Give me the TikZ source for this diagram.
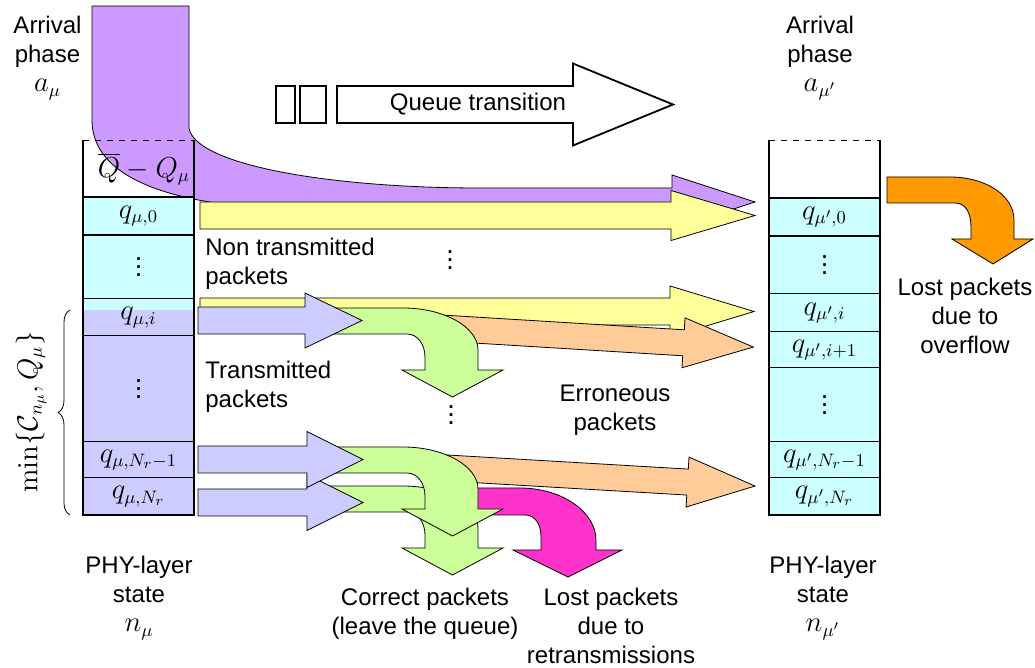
\documentclass[tikz,border=0pt]{standalone}
\usepackage{amsmath}
\usepackage{amssymb}
\usepackage[no-math]{fontspec}
\setmainfont{Liberation Sans}
\usepackage{tikz}
\usepackage{xcolor}
\usetikzlibrary{decorations.pathreplacing}

\definecolor{phasepurple}{HTML}{CC99FF}
\definecolor{waityellow}{HTML}{FFFF99}
\definecolor{txlavender}{HTML}{CCCCFF}
\definecolor{okgreen}{HTML}{CCFF99}
\definecolor{errorange}{HTML}{FFCC99}
\definecolor{retxmagenta}{HTML}{FF33CC}
\definecolor{ovforange}{HTML}{FF9900}
\definecolor{queuecyan}{HTML}{CCFFFF}

\newcommand{\bigmath}{\fontsize{13.5}{14.5}\selectfont}
\newcommand{\blockarrow}[7]{%
  \draw[#1] ({#2},{#5-#6}) -- ({#3},{#5-#6}) -- ({#3},{#5-#7}) -- ({#4},{#5})
    -- ({#3},{#5+#7}) -- ({#3},{#5+#6}) -- ({#2},{#5+#6}) -- cycle;}
\newcommand{\okbend}[2]{%
  \draw[fatarrow,fill=okgreen] ({#1},{#2}) -- (403,{#2})
    .. controls (444,{#2}) and (478,{#2+19}) .. (478,{#2+42})
    -- (478,{#2+62}) -- (503,{#2+62}) -- (452.5,{#2+89}) -- (402,{#2+62})
    -- (425,{#2+62}) -- (425,{#2+49})
    .. controls (425,{#2+37}) and (418,{#2+26}) .. (407,{#2+26})
    -- ({#1},{#2+26}) -- cycle;}

\begin{document}
\begin{tikzpicture}[x=0.5pt,y=-0.5pt,
    fatarrow/.style={draw,line width=0.4pt,line join=miter},
    cell/.style={draw,line width=0.5pt,minimum width=55.5pt,inner sep=0pt,
        font=\fontsize{13.5}{16}\selectfont},
    note/.style={align=center,inner sep=0pt,font=\fontsize{12}{14.5}\selectfont},
    dotsnode/.style={inner sep=0pt,yshift=3pt,font=\fontsize{13.5}{16}\selectfont},
    border/.style={line width=0.9pt}
]
    \useasboundingbox (0,0) rectangle (1035,668);

    \draw[fatarrow,fill=phasepurple] (92,6) -- (189,6) -- (189,128)
        .. controls (195,165) and (330,188) .. (480,188)
        -- (672,188) -- (672,175) -- (755,202) -- (672,229) -- (672,216)
        -- (300,216) -- (230,205) .. controls (150,195) and (92,170) .. (92,120) -- cycle;

    \fill[queuecyan] (83,197) rectangle (194,310);
    \fill[txlavender] (83,310) rectangle (194,515);
    \node[cell,minimum height=19pt] (l0) at (138.5,216) {$q_{\mu,0}$};
    \node[cell,minimum height=32pt] (l1) at (138.5,267) {};
    \node[cell,minimum height=18.5pt] (li) at (138.5,317.5) {$q_{\mu,i}$};
    \node[cell,minimum height=53pt] (l2) at (138.5,389) {};
    \node[cell,minimum height=18pt] (lN1) at (138.5,460) {$q_{\mu,N_r-1}$};
    \node[cell,minimum height=18.5pt] (lN) at (138.5,496.5) {$q_{\mu,N_r}$};
    \node[dotsnode] (ld1) at (l1) {$\vdots$};
    \node[dotsnode] (ld2) at (l2) {$\vdots$};
    \node[inner sep=0pt,font=\fontsize{13.5}{16}\selectfont] (lfree) at (144,169)
        {$\overline{Q}-Q_\mu$};
    \draw[line width=0.4pt,dashed] (83,140) -- (194,140);
    \draw[border] (83,140) -- (83,515) -- (194,515) -- (194,140);
    \draw[border] (83,197) -- (194,197) (83,235) -- (194,235);

    \fill[queuecyan] (769,198) rectangle (880,515);
    \node[cell,minimum height=19pt] (r0) at (824.5,217) {$q_{\mu',0}$};
    \node[cell,minimum height=29pt] (r1) at (824.5,265) {};
    \node[cell,minimum height=19pt] (ri) at (824.5,313) {$q_{\mu',i}$};
    \node[cell,minimum height=18pt] (ri1) at (824.5,350) {$q_{\mu',i+1}$};
    \node[cell,minimum height=37pt] (r2) at (824.5,405) {};
    \node[cell,minimum height=18pt] (rN1) at (824.5,460) {$q_{\mu',N_r-1}$};
    \node[cell,minimum height=18.5pt] (rN) at (824.5,496.5) {$q_{\mu',N_r}$};
    \node[dotsnode] (rd1) at (r1) {$\vdots$};
    \node[dotsnode] (rd2) at (r2) {$\vdots$};
    \draw[line width=0.4pt,dashed] (769,140) -- (880,140);
    \draw[border] (769,140) -- (769,515) -- (880,515) -- (880,140);
    \draw[border] (769,198) -- (880,198) (769,236) -- (880,236);

    \draw[line width=0.4pt,decorate,decoration={brace,amplitude=6pt}] (70,515) -- (70,310);
    \node[rotate=90,inner sep=0pt,font=\fontsize{13.5}{16}\selectfont] (minlbl) at (31,412)
        {$\min\{\mathcal{C}_{n_\mu},Q_\mu\}$};

    \blockarrow{fatarrow,fill=waityellow}{200}{671}{755}{215.5}{13.5}{25}
    \blockarrow{fatarrow,fill=waityellow}{200}{670}{754}{311.5}{13.5}{25.5}
    \begin{scope}[shift={(430,327.3)},rotate=-3.5]
        \blockarrow{fatarrow,fill=errorange}{0}{254}{324}{0}{13}{25}
    \end{scope}
    \okbend{330}{308}
    \blockarrow{fatarrow,fill=txlavender}{198}{305}{362}{320.5}{13.5}{27.5}

    \draw[fatarrow,fill=retxmagenta] (460,488) -- (520,488)
        .. controls (562,488) and (596,512) .. (596,540)
        -- (596,550) -- (622,550) -- (568,577) -- (513,550) -- (541,550) -- (541,537)
        .. controls (541,524) and (535,515) .. (525,515) -- (460,515) -- cycle;
    \begin{scope}[shift={(430,467)},rotate=-3.35]
        \blockarrow{fatarrow,fill=errorange}{0}{258}{325.6}{0}{13}{25}
    \end{scope}
    \okbend{322}{486}
    \okbend{330}{447}
    \blockarrow{fatarrow,fill=txlavender}{198}{307}{363}{502.5}{13.5}{28}
    \blockarrow{fatarrow,fill=txlavender}{198}{307}{363}{459.5}{13.5}{28}

    \draw[fatarrow,fill=ovforange] (887,177) -- (950,177)
        .. controls (985,177) and (1014,195) .. (1014,220)
        -- (1014,239) -- (1033,239) -- (993,264) -- (952,239) -- (971,239) -- (971,227)
        .. controls (971,212) and (965,203) .. (955,203) -- (887,203) -- cycle;

    \draw[border] (276,86) rectangle (295,123);
    \draw[border] (300,86) rectangle (326,123);
    \blockarrow{border,draw,fill=white}{337}{573}{673}{104.5}{18.5}{41}
    \node[note] (qt) at (478,104.5) {Queue transition};

    \node[dotsnode] (dmid1) at (450,260) {$\vdots$};
    \node[dotsnode] (dmid2) at (451,415) {$\vdots$};

    \node[note,anchor=north] (arrL) at (47.5,16) {Arrival\\phase\\\bigmath$a_\mu$};
    \node[note,anchor=north] (arrR) at (820,16) {Arrival\\phase\\\bigmath$a_{\mu'}$};
    \node[note,anchor=north] (phyL) at (139,556) {PHY-layer\\state\\\bigmath$n_\mu$};
    \node[note,anchor=north] (phyR) at (823,556) {PHY-layer\\state\\\bigmath$n_{\mu'}$};
    \node[note,anchor=north west,align=left] (nontx) at (205,238) {Non transmitted\\packets};
    \node[note,anchor=north west,align=left] (tx) at (205,361) {Transmitted\\packets};
    \node[note,anchor=north] (err) at (615,385) {Erroneous\\packets};
    \node[note,anchor=north] (ovf) at (965,278) {Lost packets\\due to\\overflow};
    \node[note,anchor=north] (okpk) at (425,588) {Correct packets\\(leave the queue)};
    \node[note,anchor=north] (retx) at (611,588) {Lost packets\\due to\\retransmissions};
\end{tikzpicture}
\end{document}
